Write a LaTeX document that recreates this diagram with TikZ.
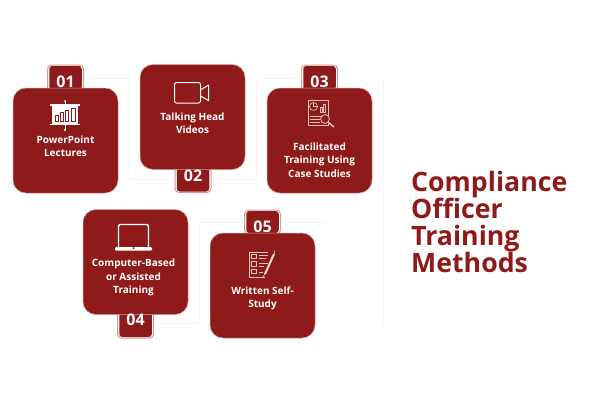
\documentclass[tikz,border=0pt]{standalone}
\usepackage{fontspec}
\setmainfont{Open Sans}
\definecolor{brick}{HTML}{8F1A1A}
\definecolor{rim}{HTML}{D49A9A}
\definecolor{faint}{HTML}{F5F5F5}
\definecolor{icopale}{HTML}{E8C4C4}
\begin{document}
\begin{tikzpicture}[x=1pt,y=-1pt,
  card/.style={draw=rim,line width=.5pt,fill=brick,rounded corners=13pt,minimum width=105pt,minimum height=105pt,inner sep=0pt,outer sep=0pt},
  tabouter/.style={draw=rim,line width=1pt,fill=white,rounded corners=4pt,minimum width=36pt,inner sep=0pt,outer sep=0pt},
  tabinner/.style={fill=brick,rounded corners=3pt,minimum width=32.5pt,inner sep=0pt,outer sep=0pt},
  digit/.style={text=white,font=\fontsize{16}{16}\selectfont\bfseries,inner sep=0pt},
  label/.style={text=white,font=\fontsize{10}{13.4}\selectfont\bfseries,align=center,inner sep=0pt},
  link/.style={draw=faint,line width=1pt},
  ico/.style={draw=white,line width=1pt,line join=round},
  icop/.style={draw=icopale,line width=.6pt,line join=round},
  title/.style={text=brick,font=\fontsize{26.7}{27}\selectfont\bfseries,align=left,inner sep=0pt,anchor=west}]
\useasboundingbox (0,0) rectangle (600,400);
\fill[white] (0,0) rectangle (600,400);
% outer tabs
\node[tabouter,minimum height=26pt] (tab1) at (65.5,78) {};
\node[tabouter,minimum height=26pt] (tab2) at (193,179.5) {};
\node[tabouter,minimum height=26pt] (tab3) at (319.5,78) {};
\node[tabouter,minimum height=30pt] (tab4) at (135.5,323) {};
\node[tabouter,minimum height=24pt] (tab5) at (262.5,222) {};
% connectors
\coordinate (railtop) at (383,78);
\coordinate (railbot) at (383,325);
\coordinate (end5) at (326,222);
\draw[link] (tab1.east) -- (129,78) -- (129,179.5) -- (tab2.west);
\draw[link] (tab2.east) -- (256,179.5) -- (256,78) -- (tab3.west);
\draw[link] (railtop) -- (railbot);
\draw[link] (tab4.east) -- (199,323) -- (199,222) -- (tab5.west);
\draw[link] (tab5.east) -- (end5);
% inner tabs
\node[tabinner,minimum height=24pt] (in1) at (65.5,78) {};
\node[tabinner,minimum height=24pt] (in2) at (193,179.5) {};
\node[tabinner,minimum height=24pt] (in3) at (319.5,78) {};
\node[tabinner,minimum height=28pt] (in4) at (135.5,323) {};
\node[tabinner,minimum height=22pt] (in5) at (262.5,222) {};
% cards
\node[card] (c1) at (65.5,140.5) {};
\node[card] (c2) at (192.5,117) {};
\node[card] (c3) at (319.5,140.5) {};
\node[card] (c4) at (135.5,262) {};
\node[card] (c5) at (262.5,285.5) {};
% digits
\node[digit] (d1) at (65.5,82) {01};
\node[digit] (d2) at (193,176) {02};
\node[digit] (d3) at (319.5,81.5) {03};
\node[digit] (d4) at (135.5,319.5) {04};
\node[digit] (d5) at (262.5,227) {05};
% labels
\node[label] (l1) at (65.5,146) {PowerPoint\\Lectures};
\node[label] (l2) at (192.5,123) {Talking Head\\Videos};
\node[label] (l3) at (319.5,160) {Facilitated\\Training Using\\Case Studies};
\node[label] (l4) at (133.5,277.5) {Computer-Based\\or Assisted\\Training};
\node[label] (l5) at (262.5,298.5) {Written Self-\\Study};
% title
\node[title] (t) at (411,222) {Compliance\\Officer\\Training\\Methods};
% icon 1
\draw[white,line width=.8pt] (65,101) -- (65,105) (65,124) -- (65,130);
\fill[white] (65,101) circle (1) (65,130) circle (1.2);
\draw[white,line width=1.4pt] (50,105) -- (80,105) (50,124.5) -- (80,124.5);
\fill[white] (52,105) rectangle (78,124);
\draw[brick,line width=.8pt] (55,115) rectangle (58,121) (60,112) rectangle (63,121) (65,110) rectangle (68,121) (71,108.5) rectangle (75,121);
% icon 2
\draw[ico,rounded corners=2pt] (174.5,82.5) rectangle (200.5,103);
\draw[ico] (200.5,90) -- (208.5,85) -- (208.5,100.5) -- (200.5,96);
% icon 3
\draw[icop] (308,100) rectangle (328,125.5);
\draw[icop] (313.5,106.5) circle (4);
\draw[icop] (313.5,106.5) -- (313.5,102.5) (313.5,106.5) -- (317.5,106.5);
\draw[icop] (320,107) rectangle (322,112) (323,104) rectangle (325.5,112);
\draw[icop] (310,116) -- (322,116) (310,119) -- (320,119) (310,122) -- (320,122);
\fill[brick] (325,119) circle (4.6);
\draw[icop,line width=.8pt] (325,119) circle (4.4);
\draw[icop,line width=1.5pt] (328.5,122.5) -- (334,127);
% icon 4
\draw[white,line width=1.4pt,rounded corners=2pt] (118.5,248) -- (118.5,224.5) -- (148.5,224.5) -- (148.5,248);
\fill[white,rounded corners=1pt] (115,247) rectangle (152,250.5);
\fill[brick] (133.5,248) circle (1);
% icon 5
\draw[icop] (268,252) -- (249,252) -- (249,277) -- (265,277);
\draw[icop] (251.5,254) rectangle (256,258.5) (251.5,261.5) rectangle (256,266) (251.5,269) rectangle (256,273.5);
\draw[icop] (259,255) -- (268,255) (259,258) -- (266,258) (259,263) -- (268,263) (259,266) -- (264,266) (259,272) -- (263,272);
\draw[white!85!brick,line width=2pt] (265,274) -- (274,254);
\draw[icop] (263,277) -- (265,274) (275,250.5) -- (274,254);
\end{tikzpicture}
\end{document}
